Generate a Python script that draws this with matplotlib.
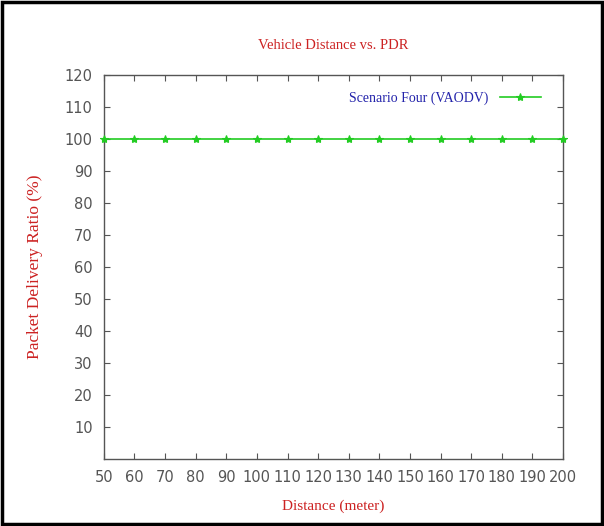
import matplotlib.pyplot as plt
from matplotlib.patches import Rectangle

# data
distance = [50, 60, 70, 80, 90, 100, 110, 120, 130, 140, 150, 160, 170, 180, 190, 200]
pdr = [100, 100, 100, 100, 100, 100, 100, 100, 100, 100, 100, 100, 100, 100, 100, 100]
yticks = [10, 20, 30, 40, 50, 60, 70, 80, 90, 100, 110, 120]

fig = plt.figure(figsize=(6.04, 5.26), dpi=100)
ax = fig.add_axes([0.172, 0.127, 0.760, 0.730])

ax.plot(distance, pdr, color='#22cc22', lw=1.2, marker='*', ms=6, mew=0.8,
        label='Scenario Four (VAODV)', clip_on=False, zorder=3)

ax.set_xlim(50, 200)
ax.set_ylim(0, 120)
ax.set_xticks(distance)
ax.set_yticks(yticks)

ax.tick_params(direction='in', top=True, right=True, length=4, width=0.8,
               colors='#555555', labelsize=10.5, labelcolor='#555555', pad=8)
for s in ax.spines.values():
    s.set_color('#555555')
    s.set_linewidth(1)

serif = ['Liberation Serif', 'DejaVu Serif']
ax.set_title('Vehicle Distance vs. PDR', color='#cc2222', family=serif,
             fontsize=10.5, pad=19)
ax.set_xlabel('Distance (meter)', color='#cc2222', family=serif, fontsize=11, labelpad=10)
ax.set_ylabel('Packet Delivery Ratio (%)', color='#cc2222', family=serif,
              fontsize=12.5, labelpad=16)

leg = ax.legend(loc='upper right', frameon=False, markerfirst=False,
                prop={'family': serif, 'size': 10}, handlelength=3,
                bbox_to_anchor=(0.98, 0.99))
for t in leg.get_texts():
    t.set_color('#2222aa')

# outer frame around the picture
fig.patches.append(Rectangle((0.003, 0.004), 0.994, 0.992, transform=fig.transFigure,
                             fill=False, edgecolor='black', lw=2.5))

fig.savefig('out.png', dpi=100)
